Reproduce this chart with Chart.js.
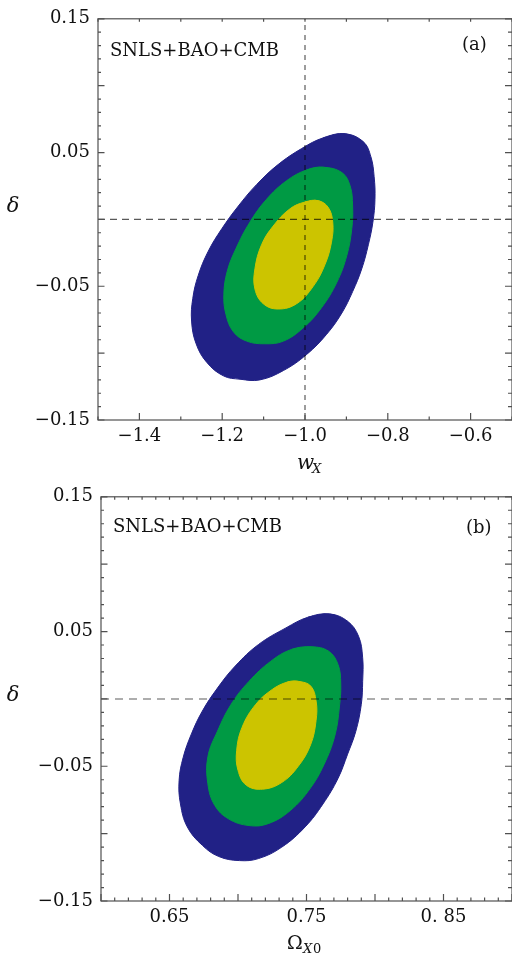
<!DOCTYPE html>
<html>
<head>
<meta charset="utf-8">
<script src="https://cdn.jsdelivr.net/npm/chart.js@4.4.0/dist/chart.umd.min.js"></script>
<style>
  html, body { margin: 0; padding: 0; background: #fff; }
  #wrap { position: relative; width: 512px; height: 957px; overflow: hidden; }
  .panel { position: absolute; left: 0; width: 512px; }
  #pa { top: 0; height: 478px; }
  #pb { top: 478px; height: 479px; }
</style>
</head>
<body>
<div id="wrap">
  <div class="panel" id="pa"><canvas id="chartA" width="512" height="478"></canvas></div>
  <div class="panel" id="pb"><canvas id="chartB" width="512" height="479"></canvas></div>
</div>
<script>
// confidence contours, [x, delta]
// panel (a): w_X vs delta
const a1sigma = [[-0.968, 0.014], [-0.944, 0.009], [-0.933, -0.002], [-0.936, -0.017], [-0.952, -0.034],
  [-0.980, -0.050], [-1.020, -0.063], [-1.065, -0.067], [-1.101, -0.063], [-1.121, -0.052],
  [-1.121, -0.037], [-1.105, -0.019], [-1.077, -0.005], [-1.036, 0.008], [-1.000, 0.013]];
const a2sigma = [[-0.956, 0.039], [-0.911, 0.035], [-0.891, 0.025], [-0.885, 0.010], [-0.887, -0.007],
  [-0.899, -0.027], [-0.923, -0.047], [-0.960, -0.066], [-1.004, -0.081], [-1.052, -0.091],
  [-1.097, -0.093], [-1.141, -0.091], [-1.173, -0.084], [-1.191, -0.071], [-1.196, -0.056],
  [-1.188, -0.039], [-1.167, -0.022], [-1.133, -0.002], [-1.093, 0.015], [-1.044, 0.029],
  [-0.996, 0.037]];
const a3sigma = [[-0.903, 0.064], [-0.859, 0.058], [-0.841, 0.047], [-0.833, 0.032], [-0.831, 0.015],
  [-0.836, -0.002], [-0.847, -0.019], [-0.863, -0.037], [-0.885, -0.054], [-0.911, -0.070],
  [-0.948, -0.086], [-0.996, -0.101], [-1.052, -0.113], [-1.109, -0.120], [-1.157, -0.1195],
  [-1.197, -0.117], [-1.237, -0.107], [-1.263, -0.093], [-1.274, -0.076], [-1.271, -0.059],
  [-1.258, -0.042], [-1.234, -0.024], [-1.201, -0.007], [-1.161, 0.010], [-1.117, 0.026],
  [-1.065, 0.041], [-1.008, 0.053], [-0.956, 0.061]];

// panel (b): Omega_X0 vs delta
const b1sigma = [[0.744, 0.013], [0.753, 0.0096], [0.757, -0.0015], [0.757, -0.016], [0.753, -0.034],
  [0.744, -0.050], [0.732, -0.062], [0.718, -0.067], [0.706, -0.064], [0.700, -0.053],
  [0.699, -0.0385], [0.703, -0.021], [0.713, -0.004], [0.725, 0.007], [0.736, 0.0125]];
const b2sigma = [[0.754, 0.0386], [0.766, 0.0355], [0.773, 0.0256], [0.775, 0.011], [0.774, -0.006],
  [0.771, -0.026], [0.764, -0.046], [0.753, -0.066], [0.738, -0.083], [0.722, -0.0926],
  [0.708, -0.094], [0.693, -0.089], [0.683, -0.079], [0.678, -0.063], [0.678, -0.043],
  [0.685, -0.024], [0.695, -0.004], [0.708, 0.013], [0.724, 0.028], [0.739, 0.0367]];
const b3sigma = [[0.767, 0.063], [0.780, 0.0576], [0.788, 0.0465], [0.791, 0.0305], [0.791, 0.013],
  [0.790, -0.004], [0.786, -0.024], [0.780, -0.041], [0.773, -0.059], [0.762, -0.078],
  [0.749, -0.095], [0.732, -0.110], [0.715, -0.1185], [0.701, -0.120], [0.686, -0.117],
  [0.674, -0.1087], [0.663, -0.095], [0.658, -0.078], [0.657, -0.0606], [0.660, -0.0434],
  [0.666, -0.026], [0.674, -0.009], [0.685, 0.008], [0.698, 0.0244], [0.715, 0.0404],
  [0.735, 0.0527], [0.751, 0.0606]];

// reference lines
const refW = -1.0;
const refDelta = 0.0;

// axes
const aXRange = [-1.5, -0.5];
const bXRange = [0.6, 0.9];
const yRange = [-0.15, 0.15];
const aXTicks = [-1.4, -1.2, -1.0, -0.8, -0.6];
const aXLabels = ['\u22121.4', '\u22121.2', '\u22121.0', '\u22120.8', '\u22120.6'];
const bXTicks = [0.65, 0.75, 0.85];
const bXLabels = ['0.65', '0.75', '0. 85'];
const yTicks = [-0.15, -0.05, 0.05, 0.15];
const yLabels = ['\u22120.15', '\u22120.05', '0.05', '0.15'];

const cBlue = '#212186';
const cGreen = '#009a44';
const cYellow = '#ccc400';
const axisColor = '#505050';
const serif = '"DejaVu Serif", "Liberation Serif", serif';

function steps(from, to, step) {
  const out = [];
  const n = Math.round((to - from) / step);
  for (let i = 0; i <= n; i++) out.push(+(from + i * step).toFixed(4));
  return out;
}

// closed outline: wrap one point past each end so the spline has no corner at the seam
function contour(pts, color, order) {
  const ring = [pts[pts.length - 1], ...pts, pts[0], pts[1]];
  return {
    data: ring.map(p => ({ x: p[0], y: p[1] })), order,
    showLine: true, fill: 'shape', tension: 0.4,
    backgroundColor: color, borderColor: color, borderWidth: 1,
    pointRadius: 0, pointHoverRadius: 0
  };
}

function dashLine(p1, p2, color, width, dash) {
  return {
    data: [p1, p2], order: 0,
    showLine: true, fill: false, borderColor: color, borderWidth: width,
    borderDash: dash, pointRadius: 0, pointHoverRadius: 0
  };
}

function decor(p) {
  return {
    id: 'decor',
    afterDatasetsDraw(chart) {
      const { ctx, chartArea: a, scales: { x, y } } = chart;
      ctx.save();
      ctx.strokeStyle = axisColor;
      ctx.lineWidth = 1.2;
      ctx.strokeRect(a.left, a.top, a.right - a.left, a.bottom - a.top);

      ctx.beginPath();
      const xt = (vals, lb, lt) => vals.forEach(v => {
        const px = x.getPixelForValue(v);
        ctx.moveTo(px, a.bottom); ctx.lineTo(px, a.bottom - lb);
        ctx.moveTo(px, a.top); ctx.lineTo(px, a.top + lt);
      });
      const yt = (vals, ll, lr) => vals.forEach(v => {
        const py = y.getPixelForValue(v);
        ctx.moveTo(a.left, py); ctx.lineTo(a.left + ll, py);
        ctx.moveTo(a.right, py); ctx.lineTo(a.right - lr, py);
      });
      xt(p.xMinor, 3.5, 3);
      xt(p.xMajor, 7, 3);
      yt(steps(-0.15, 0.15, 0.01), 3, 4);
      yt(steps(-0.15, 0.15, 0.05), 6.5, 7);
      ctx.stroke();

      ctx.fillStyle = '#111';
      ctx.textBaseline = 'alphabetic';
      ctx.font = '18px ' + serif;
      ctx.fillText('SNLS+BAO+CMB', p.tagX, p.tagY);
      ctx.fillText(p.letter, p.letterX, p.letterY);

      ctx.font = 'italic 21px ' + serif;
      ctx.textAlign = 'center';
      ctx.fillText('\u03b4', 13, p.deltaY);
      ctx.textAlign = 'left';

      if (p.xTitle === 'w') {
        ctx.font = 'italic 20px ' + serif;
        ctx.fillText('w', 297, p.titleY);
        ctx.font = 'italic 13px ' + serif;
        ctx.fillText('X', 312, p.titleY + 4);
      } else {
        ctx.font = '19px ' + serif;
        ctx.fillText('\u03a9', 287, p.titleY);
        ctx.font = 'italic 13px ' + serif;
        ctx.fillText('X', 303, p.titleY + 4);
        ctx.font = '13px ' + serif;
        ctx.fillText('0', 313, p.titleY + 4);
      }
      ctx.restore();
    }
  };
}

function makePanel(id, p) {
  const tickFont = { family: serif, size: 18 };
  return new Chart(document.getElementById(id), {
    type: 'scatter',
    data: { datasets: p.datasets },
    options: {
      responsive: false,
      animation: false,
      layout: { padding: { top: p.top, right: p.right, left: 0, bottom: 0 } },
      plugins: { legend: { display: false }, tooltip: { enabled: false } },
      scales: {
        x: {
          type: 'linear', min: p.xRange[0], max: p.xRange[1],
          grid: { display: false, drawTicks: false },
          border: { display: false },
          ticks: {
            font: tickFont, color: '#111', padding: 6, autoSkip: false, maxRotation: 0,
            callback: (v, i) => p.xLabels[i]
          },
          afterBuildTicks: s => { s.ticks = p.xTicks.map(v => ({ value: v })); },
          afterFit: s => { s.height = p.xAxisH; }
        },
        y: {
          type: 'linear', min: yRange[0], max: yRange[1],
          grid: { display: false, drawTicks: false },
          border: { display: false },
          ticks: {
            font: tickFont, color: '#111', padding: 8, autoSkip: false,
            callback: (v, i) => yLabels[i]
          },
          afterBuildTicks: s => { s.ticks = yTicks.map(v => ({ value: v })); },
          afterFit: s => { s.width = p.yAxisW; }
        }
      }
    },
    plugins: [decor(p)]
  });
}

makePanel('chartA', {
  top: 14, right: -1, xAxisH: 58, yAxisW: 98,
  xRange: aXRange, xTicks: aXTicks, xLabels: aXLabels,
  xMajor: steps(-1.4, -0.6, 0.2), xMinor: steps(-1.5, -0.5, 0.1),
  tagX: 110, tagY: 56, letter: '(a)', letterX: 462, letterY: 50,
  deltaY: 212, xTitle: 'w', titleY: 469,
  datasets: [
    dashLine({ x: refW, y: yRange[0] }, { x: refW, y: yRange[1] }, 'rgba(0,0,0,0.65)', 1.2, [5, 5]),
    dashLine({ x: aXRange[0], y: refDelta }, { x: aXRange[1], y: refDelta }, 'rgba(0,0,0,0.65)', 1.2, [7, 5]),
    contour(a1sigma, cYellow, 1),
    contour(a2sigma, cGreen, 2),
    contour(a3sigma, cBlue, 3)
  ]
});

makePanel('chartB', {
  top: 17, right: -3, xAxisH: 56, yAxisW: 101,
  xRange: bXRange, xTicks: bXTicks, xLabels: bXLabels,
  xMajor: steps(0.6, 0.9, 0.05), xMinor: steps(0.6, 0.9, 0.01),
  tagX: 113, tagY: 54, letter: '(b)', letterX: 466, letterY: 55,
  deltaY: 223, xTitle: 'Omega', titleY: 471,
  datasets: [
    dashLine({ x: bXRange[0], y: refDelta }, { x: bXRange[1], y: refDelta }, 'rgba(0,0,0,0.32)', 2, [8, 6]),
    contour(b1sigma, cYellow, 1),
    contour(b2sigma, cGreen, 2),
    contour(b3sigma, cBlue, 3)
  ]
});
</script>
</body>
</html>
